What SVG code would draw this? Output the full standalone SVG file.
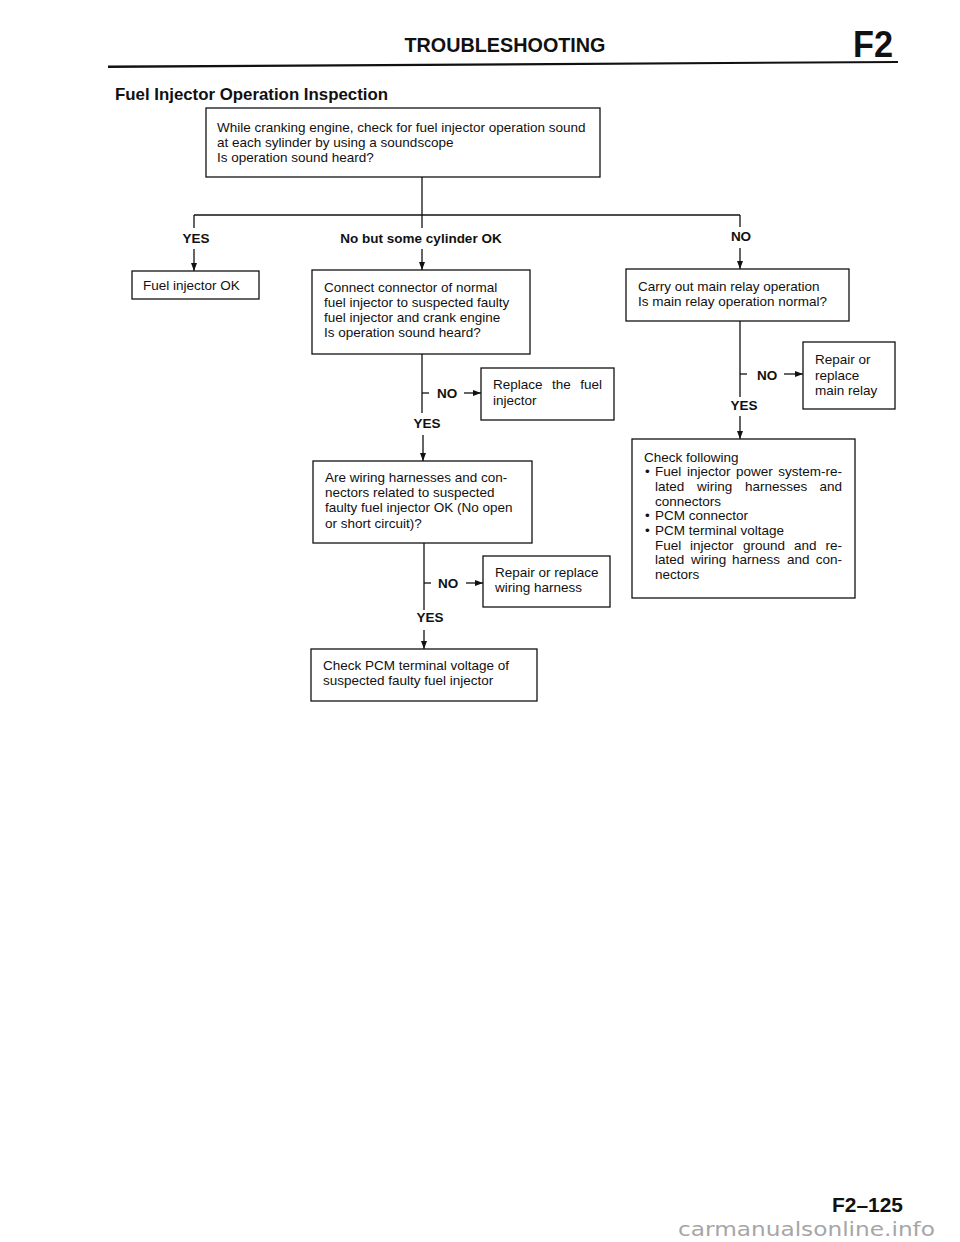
<svg xmlns="http://www.w3.org/2000/svg" width="960" height="1242" viewBox="0 0 960 1242">
<style>
.t{font-family:"Liberation Sans",Arial,sans-serif;font-size:13.5px;fill:#111}
.b{font-family:"Liberation Sans",Arial,sans-serif;font-size:13.5px;font-weight:bold;fill:#111}
.box{fill:#fff;stroke:#111;stroke-width:1.3}
.ln{fill:none;stroke:#111;stroke-width:1.3}
.e{text-anchor:end}
.m{text-anchor:middle}
</style>
<defs>
<marker id="arr" viewBox="0 0 8 6" refX="8" refY="3" markerWidth="8" markerHeight="6" markerUnits="userSpaceOnUse" orient="auto">
<path d="M0,0 L8,3 L0,6 z" fill="#111"/>
</marker>
</defs>
<rect width="960" height="1242" fill="#fff"/>

<g id="header">
<text x="505" y="52" class="b m" style="font-size:19.5px" textLength="201" lengthAdjust="spacingAndGlyphs">TROUBLESHOOTING</text>
<text x="853" y="57" class="b" style="font-size:36px" textLength="40" lengthAdjust="spacingAndGlyphs">F2</text>
<polygon points="108,65.5 898,61 898,63 108,68" fill="#111"/>
<text x="115" y="100" class="b" style="font-size:17px" textLength="273" lengthAdjust="spacingAndGlyphs">Fuel Injector Operation Inspection</text>
</g>

<g id="connectors">
<line class="ln" x1="422" y1="177" x2="422" y2="228"/>
<line class="ln" x1="194" y1="215" x2="740" y2="215"/>
<line class="ln" x1="194" y1="215" x2="194" y2="228"/>
<line class="ln" x1="740" y1="215" x2="740" y2="227"/>
<line class="ln" x1="194" y1="249" x2="194" y2="271" marker-end="url(#arr)"/>
<line class="ln" x1="422" y1="249" x2="422" y2="270" marker-end="url(#arr)"/>
<line class="ln" x1="740" y1="248" x2="740" y2="269" marker-end="url(#arr)"/>
<text x="196" y="243" class="b m">YES</text>
<text x="421" y="243" class="b m">No but some cylinder OK</text>
<text x="741" y="241" class="b m">NO</text>

<line class="ln" x1="422" y1="354" x2="422" y2="413"/>
<line class="ln" x1="422" y1="393" x2="429" y2="393"/>
<text x="437" y="398" class="b">NO</text>
<line class="ln" x1="464" y1="393" x2="481" y2="393" marker-end="url(#arr)"/>
<text x="427" y="428" class="b m">YES</text>
<line class="ln" x1="423" y1="435" x2="423" y2="461" marker-end="url(#arr)"/>

<line class="ln" x1="424" y1="543" x2="424" y2="610"/>
<line class="ln" x1="424" y1="583" x2="431" y2="583"/>
<text x="438" y="588" class="b">NO</text>
<line class="ln" x1="466" y1="583" x2="483" y2="583" marker-end="url(#arr)"/>
<text x="430" y="622" class="b m">YES</text>
<line class="ln" x1="424" y1="630" x2="424" y2="649" marker-end="url(#arr)"/>

<line class="ln" x1="740" y1="321" x2="740" y2="397"/>
<line class="ln" x1="740" y1="374" x2="747" y2="374"/>
<text x="757" y="380" class="b">NO</text>
<line class="ln" x1="784" y1="374" x2="803" y2="374" marker-end="url(#arr)"/>
<text x="744" y="410" class="b m">YES</text>
<line class="ln" x1="740" y1="416" x2="740" y2="439" marker-end="url(#arr)"/>
</g>

<g id="n-start">
<rect class="box" x="206" y="108" width="394" height="69"/>
<text x="217" y="132" class="t">While cranking engine, check for fuel injector operation sound</text>
<text x="217" y="147" class="t">at each sylinder by using a soundscope</text>
<text x="217" y="162" class="t">Is operation sound heard?</text>
</g>

<g id="n-fuel-ok">
<rect class="box" x="132" y="271" width="127" height="28"/>
<text x="143" y="290" class="t">Fuel injector OK</text>
</g>

<g id="n-connect">
<rect class="box" x="312" y="270" width="218" height="84"/>
<text x="324" y="292" class="t">Connect connector of normal</text>
<text x="324" y="307" class="t">fuel injector to suspected faulty</text>
<text x="324" y="322" class="t">fuel injector and crank engine</text>
<text x="324" y="337" class="t">Is operation sound heard?</text>
</g>

<g id="n-main-relay">
<rect class="box" x="626" y="269" width="223" height="52"/>
<text x="638" y="291" class="t">Carry out main relay operation</text>
<text x="638" y="306" class="t">Is main relay operation normal?</text>
</g>

<g id="n-repair-relay">
<rect class="box" x="803" y="342" width="92" height="67"/>
<text x="815" y="364" class="t">Repair or</text>
<text x="815" y="380" class="t">replace</text>
<text x="815" y="395" class="t">main relay</text>
</g>

<g id="n-replace-injector">
<rect class="box" x="481" y="368" width="133" height="52"/>
<text x="493" y="389" class="t">Replace</text>
<text x="552" y="389" class="t">the</text>
<text x="602" y="389" class="t e">fuel</text>
<text x="493" y="405" class="t">injector</text>
</g>

<g id="n-wiring-check">
<rect class="box" x="313" y="461" width="219" height="82"/>
<text x="325" y="482" class="t">Are wiring harnesses and con-</text>
<text x="325" y="497" class="t">nectors related to suspected</text>
<text x="325" y="512" class="t">faulty fuel injector OK (No open</text>
<text x="325" y="528" class="t">or short circuit)?</text>
</g>

<g id="n-repair-wiring">
<rect class="box" x="483" y="556" width="127" height="51"/>
<text x="495" y="577" class="t">Repair or replace</text>
<text x="495" y="592" class="t">wiring harness</text>
</g>

<g id="n-check-pcm">
<rect class="box" x="311" y="649" width="226" height="52"/>
<text x="323" y="670" class="t">Check PCM terminal voltage of</text>
<text x="323" y="685" class="t">suspected faulty fuel injector</text>
</g>

<g id="n-check-following">
<rect class="box" x="632" y="439" width="223" height="159"/>
<text x="644" y="462" class="t">Check following</text>
<text x="645" y="476" class="t">•</text>
<text x="655" y="476" class="t">Fuel</text>
<text x="687" y="476" class="t">injector</text>
<text x="736" y="476" class="t">power</text>
<text x="842" y="476" class="t e">system-re-</text>
<text x="655" y="491" class="t">lated</text>
<text x="697" y="491" class="t">wiring</text>
<text x="745" y="491" class="t">harnesses</text>
<text x="842" y="491" class="t e">and</text>
<text x="655" y="506" class="t">connectors</text>
<text x="645" y="520" class="t">•</text>
<text x="655" y="520" class="t">PCM connector</text>
<text x="645" y="535" class="t">•</text>
<text x="655" y="535" class="t">PCM terminal voltage</text>
<text x="655" y="550" class="t">Fuel</text>
<text x="690" y="550" class="t">injector</text>
<text x="743" y="550" class="t">ground</text>
<text x="794" y="550" class="t">and</text>
<text x="842" y="550" class="t e">re-</text>
<text x="655" y="564" class="t">lated</text>
<text x="691" y="564" class="t">wiring</text>
<text x="732" y="564" class="t">harness</text>
<text x="787" y="564" class="t">and</text>
<text x="842" y="564" class="t e">con-</text>
<text x="655" y="579" class="t">nectors</text>
</g>

<g id="footer">
<text x="832" y="1212" class="b" style="font-size:21px" textLength="71" lengthAdjust="spacingAndGlyphs">F2–125</text>
<text x="678" y="1236" style="font-family:'DejaVu Sans',sans-serif;font-size:19px;fill:#a6a6a6" textLength="257" lengthAdjust="spacingAndGlyphs">carmanualsonline.info</text>
</g>
</svg>
